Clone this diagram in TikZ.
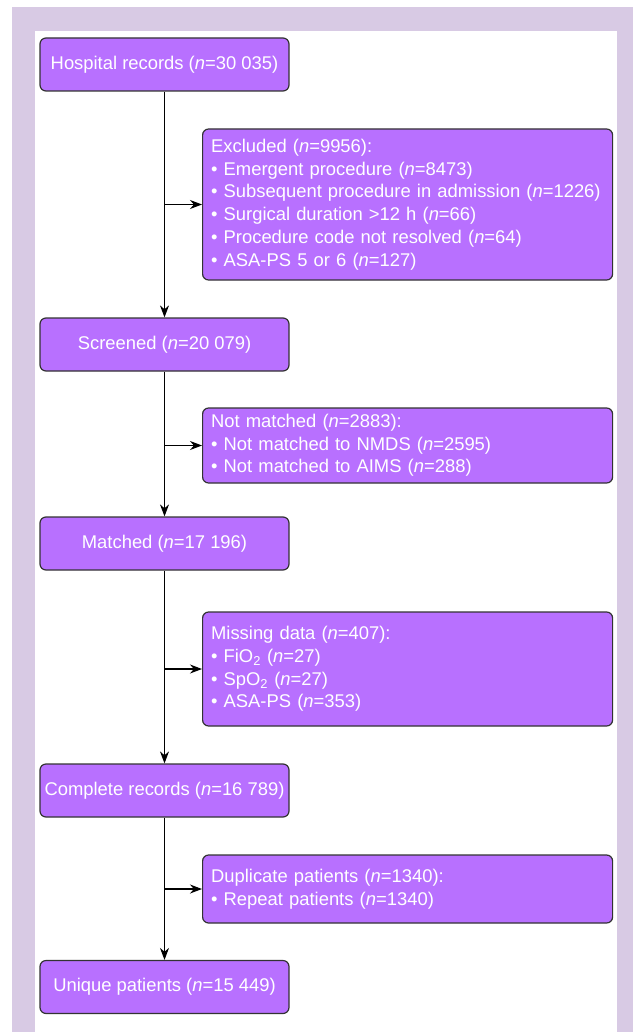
\documentclass[tikz,border=0pt]{standalone}
\usepackage{fontspec}
\setmainfont{Liberation Sans}
\usetikzlibrary{arrows.meta}
\definecolor{boxfill}{HTML}{B870FF}
\definecolor{boxline}{HTML}{333333}
\definecolor{framecol}{HTML}{D8CAE4}
\begin{document}
\begin{tikzpicture}[x=1pt,y=-1pt,
  basebox/.style={draw=boxline, line width=1.2pt, fill=boxfill, rounded corners=6pt,
    text=white, font=\fontsize{18.4}{22.7}\selectfont},
  mainbox/.style={basebox, minimum width=249pt, minimum height=53pt, inner xsep=1pt},
  sidebox/.style={basebox, text width=393pt, inner xsep=8.5pt, inner ysep=4pt, align=left, anchor=west},
  arr/.style={-{Stealth[length=12pt,width=9pt]}, line width=1.1pt}]
\useasboundingbox (0,0) rectangle (633,1032);
\fill[framecol] (12,7) rectangle (633,1032);
\fill[white] (35,31) rectangle (617,1032);

\node[mainbox] (hosp) at (164.5,64.5) {Hospital records (\textit{n}=30 035)};
\node[sidebox, minimum height=151pt] (excl) at (202,204.5) {Excluded (\textit{n}=9956):\\
\mbox{• Emergent procedure (\textit{n}=8473)}\\
\mbox{• Subsequent procedure in admission (\textit{n}=1226)}\\
\mbox{• Surgical duration >12 h (\textit{n}=66)}\\
\mbox{• Procedure code not resolved (\textit{n}=64)}\\
\mbox{• ASA-PS 5 or 6 (\textit{n}=127)}};
\node[mainbox] (screen) at (164.5,344.5) {Screened (\textit{n}=20 079)};
\node[sidebox, minimum height=75pt] (notm) at (202,445.5) {Not matched (\textit{n}=2883):\\
• Not matched to NMDS (\textit{n}=2595)\\
• Not matched to AIMS (\textit{n}=288)};
\node[mainbox] (match) at (164.5,543.5) {Matched (\textit{n}=17 196)};
\node[sidebox, minimum height=114pt] (miss) at (202,669) {Missing data (\textit{n}=407):\\
• FiO\textsubscript{2} (\textit{n}=27)\\
• SpO\textsubscript{2} (\textit{n}=27)\\
• ASA-PS (\textit{n}=353)};
\node[mainbox] (compl) at (164.5,790.5) {Complete records (\textit{n}=16 789)};
\node[sidebox, minimum height=68pt] (dup) at (202,889) {Duplicate patients (\textit{n}=1340):\\
• Repeat patients (\textit{n}=1340)};
\node[mainbox] (uniq) at (164.5,987) {Unique patients (\textit{n}=15 449)};

\draw[arr] (hosp.south) -- (screen.north);
\draw[arr] (hosp.south |- excl.west) -- (excl.west);
\draw[arr] (screen.south) -- (match.north);
\draw[arr] (screen.south |- notm.west) -- (notm.west);
\draw[arr] (match.south) -- (compl.north);
\draw[arr] (match.south |- miss.west) -- (miss.west);
\draw[arr] (compl.south) -- (uniq.north);
\draw[arr] (compl.south |- dup.west) -- (dup.west);
\end{tikzpicture}
\end{document}
